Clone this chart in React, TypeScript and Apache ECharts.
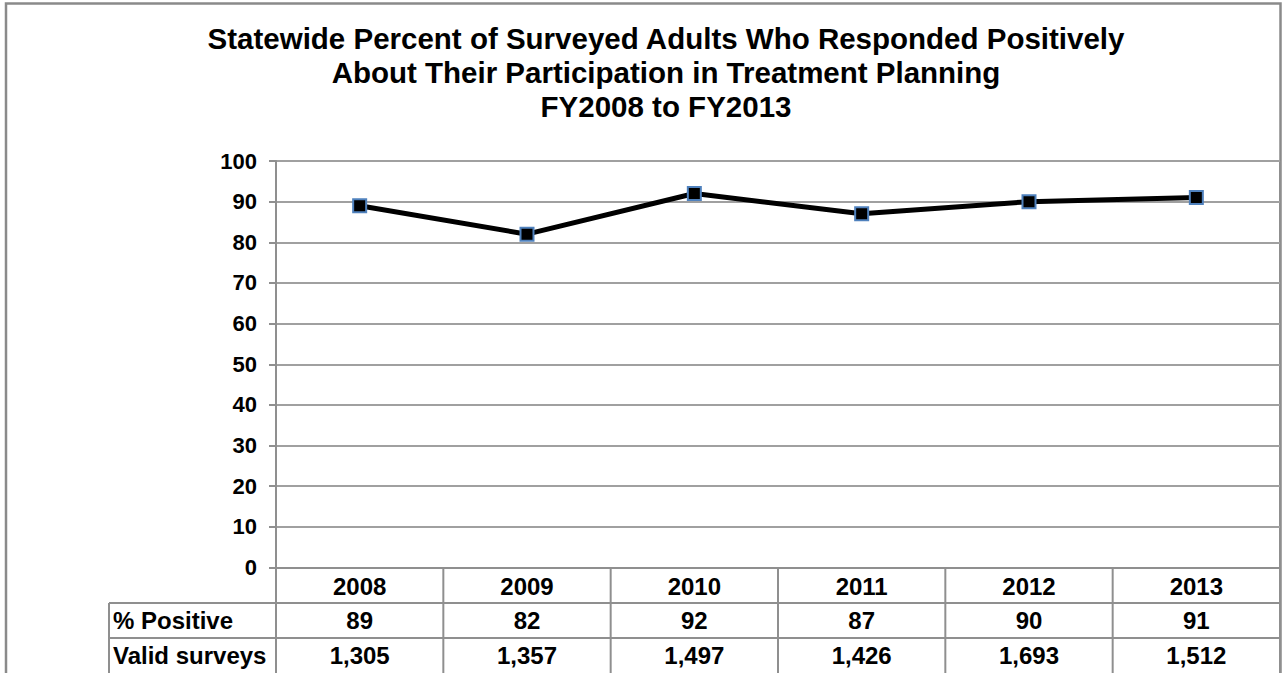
import React, { useEffect, useRef } from "react";
import * as echarts from "echarts";

// Survey results by fiscal year
const categories = ["2008", "2009", "2010", "2011", "2012", "2013"];
const percentPositive = [89, 82, 92, 87, 90, 91];
const validSurveys = [1305, 1357, 1497, 1426, 1693, 1512];
const rowLabels = ["% Positive", "Valid surveys"];
const titleLines = [
  "Statewide Percent of Surveyed Adults Who Responded Positively",
  "About Their Participation in Treatment Planning",
  "FY2008 to FY2013",
];
const yMin = 0;
const yMax = 100;
const yInterval = 10;

const W = 1282;
const H = 673;
const FONT = '"Liberation Sans", Arial, Helvetica, sans-serif';
const GRID_LEFT = 276;
const GRID_RIGHT = 1280;
const GRID_TOP = 161;
const GRID_BOTTOM = 567.5;
const LABEL_COL_LEFT = 109;
const ROW_LINES = [603, 638];
const ROW_H = 35.5;
const LINE_GRAY = "#8f8f8f";
const TABLE_FONT = 24;

export default function App() {
  const ref = useRef<HTMLDivElement>(null);

  useEffect(() => {
    if (!ref.current) return;
    const chart = echarts.init(ref.current, undefined, { renderer: "svg" });

    const colW = (GRID_RIGHT - GRID_LEFT) / categories.length;
    const graphic: any[] = [];

    // outer frame
    graphic.push({
      type: "rect",
      shape: { x: 6, y: 3.5, width: 1274.5, height: 720 },
      style: { fill: "none", stroke: "#8a8a8a", lineWidth: 2.5 },
      silent: true,
    });

    // title
    titleLines.forEach((t, i) => {
      graphic.push({
        type: "text",
        x: 666,
        y: 38 + i * 34,
        style: {
          text: t,
          fontFamily: FONT,
          fontSize: 29.5,
          fontWeight: "bold",
          fill: "#000",
          align: "center",
          verticalAlign: "middle",
        },
      });
    });

    const line = (x1: number, y1: number, x2: number, y2: number) => ({
      type: "line",
      shape: { x1, y1, x2, y2 },
      style: { stroke: LINE_GRAY, lineWidth: 2 },
      silent: true,
    });

    // right edge of plot area
    graphic.push(line(GRID_RIGHT, GRID_TOP, GRID_RIGHT, H));
    // table column lines
    for (let i = 0; i <= categories.length; i++) {
      const x = GRID_LEFT + i * colW;
      graphic.push(line(x, GRID_BOTTOM, x, H));
    }
    // label column left edge
    graphic.push(line(LABEL_COL_LEFT, ROW_LINES[0], LABEL_COL_LEFT, H));
    // row lines
    ROW_LINES.forEach((y) => graphic.push(line(LABEL_COL_LEFT, y, GRID_RIGHT, y)));

    const rows = [
      percentPositive.map((v) => String(v)),
      validSurveys.map((v) => v.toLocaleString("en-US")),
    ];
    rows.forEach((vals, r) => {
      const cy = ROW_LINES[r] + ROW_H / 2;
      graphic.push({
        type: "text",
        x: LABEL_COL_LEFT + 4,
        y: cy,
        style: {
          text: rowLabels[r],
          fontFamily: FONT,
          fontSize: TABLE_FONT,
          fontWeight: "bold",
          fill: "#000",
          align: "left",
          verticalAlign: "middle",
        },
      });
      vals.forEach((v, c) => {
        graphic.push({
          type: "text",
          x: GRID_LEFT + (c + 0.5) * colW,
          y: cy,
          style: {
            text: v,
            fontFamily: FONT,
            fontSize: TABLE_FONT,
            fontWeight: "bold",
            fill: "#000",
            align: "center",
            verticalAlign: "middle",
          },
        });
      });
    });

    chart.setOption({
      animation: false,
      backgroundColor: "#fff",
      grid: {
        left: GRID_LEFT,
        right: W - GRID_RIGHT,
        top: GRID_TOP,
        bottom: H - GRID_BOTTOM,
        containLabel: false,
      },
      xAxis: {
        type: "category",
        data: categories,
        boundaryGap: true,
        axisLine: { show: true, lineStyle: { color: LINE_GRAY, width: 2 } },
        axisTick: { show: false },
        axisLabel: {
          margin: 7,
          fontFamily: FONT,
          fontSize: TABLE_FONT,
          fontWeight: "bold",
          color: "#000",
        },
        splitLine: { show: false },
      },
      yAxis: {
        type: "value",
        min: yMin,
        max: yMax,
        interval: yInterval,
        axisLine: { show: true, lineStyle: { color: LINE_GRAY, width: 2 } },
        axisTick: { show: true, length: 7, lineStyle: { color: LINE_GRAY, width: 2 } },
        axisLabel: {
          margin: 19,
          fontFamily: FONT,
          fontSize: 22,
          fontWeight: "bold",
          color: "#000",
        },
        splitLine: { show: true, lineStyle: { color: "#a0a0a0", width: 2 } },
      },
      series: [
        {
          type: "line",
          data: percentPositive,
          symbol: "rect",
          symbolSize: 13,
          showSymbol: true,
          lineStyle: { color: "#000", width: 5 },
          itemStyle: { color: "#000", borderColor: "#4F81BD", borderWidth: 2 },
          z: 5,
        },
      ],
      graphic,
    });

    return () => chart.dispose();
  }, []);

  return (
    <div
      ref={ref}
      style={{ position: "absolute", left: 0, top: 0, width: W, height: H }}
    />
  );
}
